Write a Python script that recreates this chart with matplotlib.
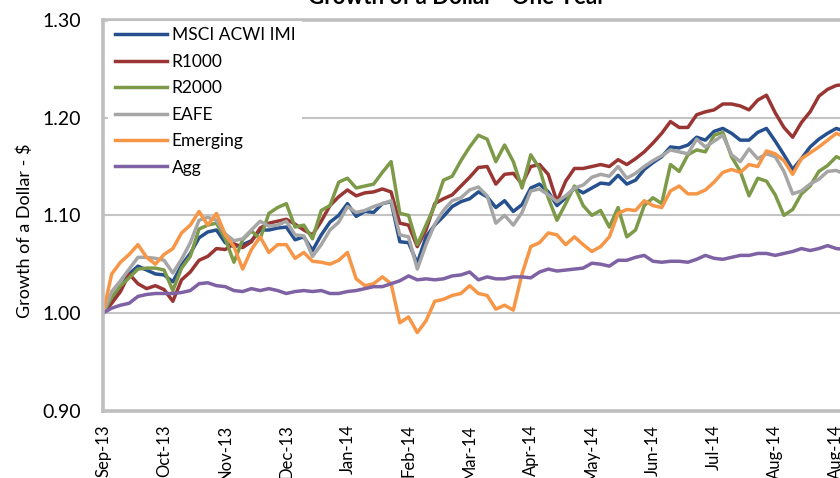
import numpy as np
import matplotlib.pyplot as plt

plt.rcParams['font.family'] = ['Lato', 'DejaVu Sans']

# trading-day index, one reading every 3 days
days = np.arange(0, 258, 3)

tick_days = np.arange(0, 253, 21)
tick_labels = ['Sep-13', 'Oct-13', 'Nov-13', 'Dec-13', 'Jan-14', 'Feb-14', 'Mar-14',
               'Apr-14', 'May-14', 'Jun-14', 'Jul-14', 'Aug-14', 'Aug-14']

acwi = [1.000, 1.015, 1.026, 1.040, 1.048, 1.044, 1.040, 1.039, 1.032, 1.049,
        1.061, 1.077, 1.083, 1.085, 1.072, 1.068, 1.070, 1.074, 1.085, 1.085,
        1.087, 1.088, 1.075, 1.078, 1.064, 1.080, 1.093, 1.100, 1.112, 1.099,
        1.104, 1.103, 1.112, 1.114, 1.073, 1.072, 1.051, 1.078, 1.090, 1.099,
        1.109, 1.114, 1.117, 1.124, 1.119, 1.108, 1.115, 1.104, 1.111, 1.128,
        1.132, 1.124, 1.110, 1.118, 1.128, 1.123, 1.128, 1.133, 1.132, 1.141,
        1.132, 1.136, 1.147, 1.154, 1.160, 1.170, 1.169, 1.172, 1.180, 1.177,
        1.186, 1.189, 1.184, 1.177, 1.177, 1.185, 1.189, 1.176, 1.162, 1.147,
        1.158, 1.170, 1.178, 1.184, 1.189, 1.186]

r1000 = [1.000, 1.010, 1.022, 1.040, 1.030, 1.025, 1.028, 1.024, 1.012, 1.034,
         1.042, 1.054, 1.058, 1.066, 1.065, 1.071, 1.067, 1.073, 1.087, 1.092,
         1.094, 1.096, 1.091, 1.085, 1.080, 1.094, 1.110, 1.119, 1.126, 1.120,
         1.123, 1.124, 1.127, 1.124, 1.092, 1.090, 1.068, 1.085, 1.112, 1.117,
         1.121, 1.130, 1.139, 1.149, 1.150, 1.132, 1.142, 1.143, 1.132, 1.150,
         1.152, 1.142, 1.114, 1.135, 1.148, 1.148, 1.150, 1.152, 1.150, 1.157,
         1.152, 1.158, 1.165, 1.174, 1.184, 1.196, 1.190, 1.190, 1.203, 1.206,
         1.208, 1.214, 1.214, 1.212, 1.208, 1.218, 1.223, 1.205, 1.190, 1.180,
         1.195, 1.206, 1.222, 1.229, 1.233, 1.234]

r2000 = [1.000, 1.016, 1.028, 1.036, 1.045, 1.046, 1.046, 1.044, 1.023, 1.046,
         1.058, 1.086, 1.090, 1.092, 1.076, 1.052, 1.075, 1.084, 1.076, 1.102,
         1.108, 1.112, 1.088, 1.090, 1.076, 1.105, 1.110, 1.134, 1.138, 1.128,
         1.130, 1.132, 1.144, 1.155, 1.102, 1.100, 1.070, 1.090, 1.110, 1.136,
         1.140, 1.156, 1.170, 1.182, 1.178, 1.155, 1.172, 1.155, 1.128, 1.162,
         1.148, 1.118, 1.095, 1.112, 1.130, 1.110, 1.100, 1.105, 1.088, 1.108,
         1.078, 1.085, 1.110, 1.118, 1.112, 1.152, 1.145, 1.162, 1.167, 1.165,
         1.182, 1.185, 1.160, 1.145, 1.120, 1.138, 1.135, 1.121, 1.100, 1.106,
         1.122, 1.130, 1.145, 1.151, 1.160, 1.156]

eafe = [1.000, 1.022, 1.033, 1.045, 1.057, 1.057, 1.056, 1.054, 1.041, 1.055,
        1.072, 1.095, 1.098, 1.095, 1.081, 1.074, 1.076, 1.085, 1.094, 1.089,
        1.090, 1.094, 1.080, 1.079, 1.058, 1.070, 1.085, 1.093, 1.109, 1.103,
        1.105, 1.109, 1.112, 1.115, 1.080, 1.078, 1.045, 1.070, 1.091, 1.105,
        1.115, 1.118, 1.126, 1.129, 1.120, 1.092, 1.100, 1.090, 1.103, 1.125,
        1.127, 1.121, 1.114, 1.120, 1.128, 1.131, 1.139, 1.142, 1.140, 1.150,
        1.138, 1.143, 1.150, 1.156, 1.161, 1.167, 1.165, 1.163, 1.178, 1.170,
        1.176, 1.182, 1.162, 1.155, 1.168, 1.158, 1.163, 1.160, 1.145, 1.122,
        1.125, 1.132, 1.137, 1.145, 1.146, 1.142]

emerging = [1.000, 1.040, 1.052, 1.060, 1.070, 1.057, 1.050, 1.060, 1.066, 1.082,
            1.090, 1.104, 1.090, 1.102, 1.080, 1.068, 1.045, 1.065, 1.078, 1.062,
            1.070, 1.070, 1.056, 1.062, 1.053, 1.052, 1.050, 1.054, 1.062, 1.035,
            1.028, 1.030, 1.037, 1.030, 0.990, 0.996, 0.980, 0.992, 1.012, 1.014,
            1.018, 1.020, 1.028, 1.020, 1.018, 1.004, 1.008, 1.003, 1.040, 1.068,
            1.072, 1.082, 1.080, 1.070, 1.078, 1.070, 1.063, 1.068, 1.078, 1.102,
            1.106, 1.105, 1.115, 1.110, 1.108, 1.125, 1.130, 1.122, 1.122, 1.126,
            1.134, 1.144, 1.147, 1.144, 1.152, 1.150, 1.166, 1.163, 1.156, 1.142,
            1.158, 1.164, 1.170, 1.177, 1.184, 1.180]

agg = [1.000, 1.005, 1.008, 1.010, 1.017, 1.019, 1.020, 1.020, 1.020, 1.021,
       1.023, 1.030, 1.031, 1.028, 1.027, 1.023, 1.022, 1.025, 1.023, 1.025,
       1.023, 1.020, 1.022, 1.023, 1.022, 1.023, 1.020, 1.020, 1.022, 1.023,
       1.025, 1.027, 1.027, 1.030, 1.033, 1.038, 1.034, 1.035, 1.034, 1.035,
       1.038, 1.039, 1.042, 1.034, 1.037, 1.035, 1.035, 1.037, 1.037, 1.036,
       1.042, 1.045, 1.043, 1.044, 1.045, 1.046, 1.051, 1.050, 1.048, 1.054,
       1.054, 1.057, 1.059, 1.053, 1.052, 1.053, 1.053, 1.052, 1.055, 1.059,
       1.056, 1.055, 1.057, 1.059, 1.059, 1.061, 1.061, 1.059, 1.061, 1.063,
       1.066, 1.064, 1.066, 1.069, 1.066, 1.065]

series = [('MSCI ACWI IMI', acwi, '#26508e'),
          ('R1000', r1000, '#993634'),
          ('R2000', r2000, '#7d9a49'),
          ('EAFE', eafe, '#a6a6a6'),
          ('Emerging', emerging, '#f79646'),
          ('Agg', agg, '#7f62a3')]

fig = plt.figure(figsize=(8.4, 4.78), dpi=100)
ax = fig.add_axes([103 / 840, 67.3 / 478, 258 * 2.91 / 840, 390.7 / 478])

for name, vals, col in series:
    ax.plot(days, vals, color=col, lw=2.5, label=name, solid_joinstyle='round')

ax.set_xlim(0, 258)
ax.set_ylim(0.90, 1.30)
ax.set_yticks([0.90, 1.00, 1.10, 1.20, 1.30])
ax.set_yticklabels(['%.2f' % v for v in [0.90, 1.00, 1.10, 1.20, 1.30]])
ax.set_xticks(tick_days)
ax.set_xticklabels(tick_labels, rotation=90, va='top')
ax.tick_params(axis='y', length=0, pad=16, labelsize=14)
ax.tick_params(axis='x', length=0, pad=10, labelsize=12)
ax.grid(axis='y', color='#c4c4c4', lw=1.5)
ax.set_axisbelow(True)
for s in ['left', 'bottom', 'top']:
    ax.spines[s].set_color('#bfbfbf')
    ax.spines[s].set_linewidth(2.6)
ax.spines['right'].set_visible(False)

leg = ax.legend(loc='upper left', bbox_to_anchor=(0.0, 1.012), fontsize=12.5,
                handlelength=3.0, handletextpad=0.25, labelspacing=0.6,
                borderaxespad=0.3, frameon=True, fancybox=False)
leg.get_frame().set_facecolor('white')
leg.get_frame().set_edgecolor('none')
leg.get_frame().set_alpha(1)

fig.text(25 / 840, 1 - 231 / 478, 'Growth of a Dollar - $', rotation=90,
         ha='center', va='center', fontsize=13)
fig.text(457 / 840, 1 - 4.5 / 478, 'Growth of a Dollar - One Year', ha='center',
         va='baseline', fontsize=16, fontweight='bold')

fig.savefig('out.png', dpi=100)
